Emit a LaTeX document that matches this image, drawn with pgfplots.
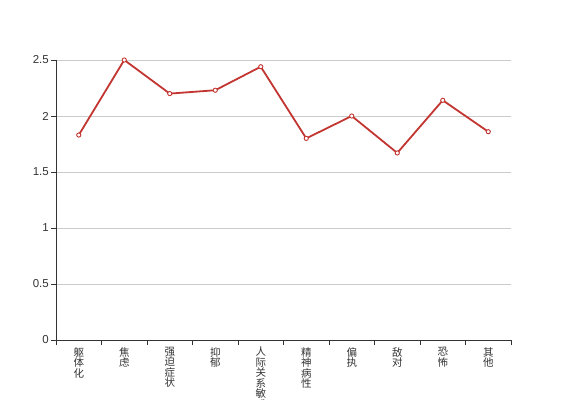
\documentclass[border=0pt]{standalone}
\usepackage{pgfplots}
\pgfplotsset{compat=1.18}
\usepackage{fontspec}
\setmainfont{Liberation Sans}
\newfontfamily\cjk{Noto Sans CJK SC}
\definecolor{linered}{HTML}{C23531}
\definecolor{axisgray}{HTML}{333333}
\definecolor{gridgray}{HTML}{CCCCCC}
\begin{document}
\begin{tikzpicture}
\useasboundingbox (0,0) rectangle (567bp,400bp);
\clip (0,0) rectangle (567bp,400bp);
\begin{axis}[
  at={(56bp,60bp)}, anchor=south west,
  scale only axis, width=455bp, height=280bp,
  xmin=-0.5, xmax=9.5, ymin=0, ymax=2.5,
  axis x line*=bottom, axis y line*=left,
  axis line style={axisgray, line width=0.8bp},
  tick align=outside, major tick length=5bp,
  tick style={axisgray, line width=0.8bp},
  xtick={-0.5,0.5,1.5,2.5,3.5,4.5,5.5,6.5,7.5,8.5,9.5},
  xticklabels={{躯\\体\\化},{焦\\虑},{强\\迫\\症\\状},{抑\\郁},{人\\际\\关\\系\\敏\\感},{精\\神\\病\\性},{偏\\执},{敌\\对},{恐\\怖},{其\\他},{}},
  xticklabel style={font=\cjk\fontsize{10.5bp}{10.5bp}\selectfont, align=center, anchor=north, inner sep=0pt, xshift=22.75bp, yshift=-2bp, text=axisgray},
  ytick={0,0.5,1,1.5,2,2.5},
  yticklabels={0,0.5,1,1.5,2,2.5},
  yticklabel style={font=\fontsize{11.5bp}{12bp}\selectfont, anchor=east, inner sep=0pt, text=axisgray, xshift=-2bp},
  ymajorgrids, grid style={gridgray, line width=0.8bp},
  clip=false,
]
\addplot[linered, line width=1.8bp, mark=*, mark size=2.1bp, mark options={fill=white, draw=linered, line width=0.9bp}]
  coordinates {(0,1.83) (1,2.5) (2,2.2) (3,2.23) (4,2.44) (5,1.80) (6,2.0) (7,1.67) (8,2.14) (9,1.86)};
\end{axis}
\end{tikzpicture}
\end{document}
